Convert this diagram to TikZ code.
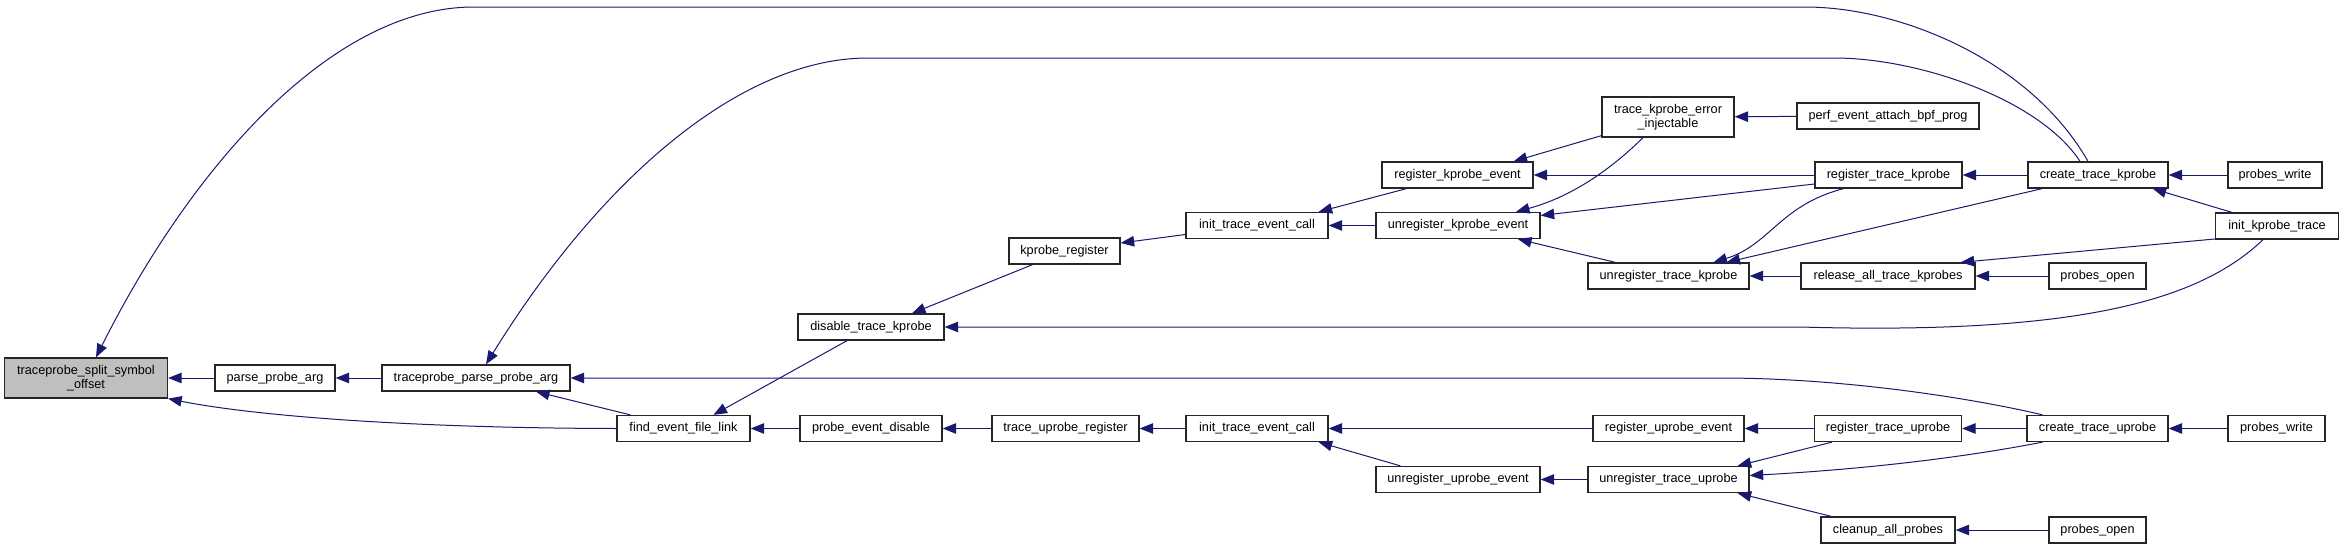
\documentclass[tikz,border=0pt]{standalone}
\usepackage{fontspec}
\setmainfont{Liberation Sans}
\usetikzlibrary{arrows.meta}
\definecolor{edgeblue}{RGB}{25,25,112}
\definecolor{rootgray}{RGB}{191,191,191}

\begin{document}
\begin{tikzpicture}[
    x=1pt, y=-1pt,
    font=\fontsize{12.7pt}{14.5pt}\selectfont,
    fn/.style={
        draw=black!85,
        line width=1.3pt,
        fill=white,
        minimum height=26pt,
        inner sep=2pt,
        align=center
    },
    root/.style={fn, fill=rootgray},
    arrow/.style={{Triangle[length=13.5pt,width=10.5pt]}-, line width=1pt, draw=edgeblue}
]
\path[use as bounding box, fill=white] (0,0) rectangle (2343,549);

% ============================================================
% LEFT PART
% ============================================================
\node[root, minimum width=163pt, minimum height=40pt] (split) at (86,378) {traceprobe\_split\_symbol\\\_offset};
\node[fn, minimum width=120pt] (ppa) at (275,378) {parse\_probe\_arg};
\node[fn, minimum width=188pt] (tppa) at (476,378) {traceprobe\_parse\_probe\_arg};
\node[fn, minimum width=133pt] (fefl) at (683.5,428.5) {find\_event\_file\_link};
\node[fn, minimum width=146pt] (dtk) at (871,327) {disable\_trace\_kprobe};
\node[fn, minimum width=142pt] (ped) at (871,428.5) {probe\_event\_disable};
\node[fn, minimum width=111pt] (kpr) at (1064.5,251) {kprobe\_register};
\node[fn, minimum width=147pt] (tur) at (1065.5,428.5) {trace\_uprobe\_register};
\node[fn, minimum width=142pt] (itk) at (1257,225.5) {init\_trace\_event\_call};
\node[fn, minimum width=142pt] (itu) at (1257,428.5) {init\_trace\_event\_call};

% ============================================================
% KPROBE PART
% ============================================================
\node[fn, minimum width=151pt] (rke) at (1457.5,175) {register\_kprobe\_event};
\node[fn, minimum width=164pt] (urke) at (1458,225.5) {unregister\_kprobe\_event};
\node[fn, minimum width=132pt, minimum height=40pt] (tkei) at (1668,117) {trace\_kprobe\_error\\\_injectable};
\node[fn, minimum width=161pt] (urtk) at (1668.5,276) {unregister\_trace\_kprobe};
\node[fn, minimum width=182pt] (pea) at (1888,116) {perf\_event\_attach\_bpf\_prog};
\node[fn, minimum width=147pt] (rtk) at (1888.5,175) {register\_trace\_kprobe};
\node[fn, minimum width=174pt] (ratk) at (1888,276) {release\_all\_trace\_kprobes};
\node[fn, minimum width=140pt] (ctk) at (2098,175) {create\_trace\_kprobe};
\node[fn, minimum width=97pt] (pok) at (2097.5,276) {probes\_open};
\node[fn, minimum width=94pt] (pwk) at (2275,175) {probes\_write};
\node[fn, minimum width=123pt] (ikt) at (2277,226) {init\_kprobe\_trace};

% ============================================================
% UPROBE PART
% ============================================================
\node[fn, minimum width=151pt] (rue) at (1668.5,428.5) {register\_uprobe\_event};
\node[fn, minimum width=147pt] (rtu) at (1888,428.5) {register\_trace\_uprobe};
\node[fn, minimum width=141pt] (ctu) at (2097.5,428.5) {create\_trace\_uprobe};
\node[fn, minimum width=97pt] (pwu) at (2276.5,428.5) {probes\_write};
\node[fn, minimum width=164pt] (urue) at (1458,479.5) {unregister\_uprobe\_event};
\node[fn, minimum width=161pt] (urtu) at (1668.5,479.5) {unregister\_trace\_uprobe};
\node[fn, minimum width=134pt] (cap) at (1888,530) {cleanup\_all\_probes};
\node[fn, minimum width=97pt] (pou) at (2097.5,530) {probes\_open};

% ============================================================
% CALLS
% ============================================================
\draw[arrow] (split) -- (ppa);
\draw[arrow] (ppa) -- (tppa);
\draw[arrow] (split.south east) .. controls (250,415) and (400,428) .. (fefl.west);
\draw[arrow] ([xshift=10pt]split.north) .. controls (190,170) and (330,7) .. (474,7)
    -- (1805,7) .. controls (1900,7) and (2030,60) .. ([xshift=-10pt]ctk.north);
\draw[arrow] ([xshift=10pt]tppa.north) .. controls (600,180) and (740,58) .. (868,58)
    -- (1834,58) .. controls (1920,58) and (2040,100) .. ([xshift=-18pt]ctk.north);
\draw[arrow] (tppa.east) -- (1720,378) .. controls (1850,378) and (1980,400) .. ([xshift=-55pt]ctu.north);
\draw[arrow] ([xshift=60pt]tppa.south) -- ([xshift=14pt]fefl.north west);
\draw[arrow] ([xshift=30pt]fefl.north) -- ([xshift=-24pt]dtk.south);
\draw[arrow] (fefl) -- (ped);
\draw[arrow] ([xshift=41pt]dtk.north) -- ([xshift=-32pt]kpr.south);
\draw[arrow] (dtk.east) -- (1800,327) .. controls (2080,335) and (2200,300) .. ([xshift=-14pt]ikt.south);
\draw[arrow] ([yshift=8pt]kpr.east) -- ([yshift=-9pt]itk.west);

% kprobe side
\draw[arrow] ([xshift=-10pt]itk.north east) -- ([xshift=25pt]rke.south west);
\draw[arrow] (itk) -- (urke);
\draw[arrow] ([xshift=-20pt]rke.north east) -- ([yshift=2pt]tkei.south west);
\draw[arrow] (rke) -- (rtk);
\draw[arrow] ([xshift=58pt]urke.north) .. controls (1560,200) and (1600,180) .. ([xshift=-25pt]tkei.south);
\draw[arrow] ([yshift=10pt]urke.east) -- ([yshift=-9pt]rtk.west);
\draw[arrow] ([xshift=60pt]urke.south) -- ([xshift=28pt]urtk.north west);
\draw[arrow] (tkei) -- (pea);
\draw[arrow] (rtk) -- (ctk);
\draw[arrow] ([xshift=45pt]urtk.north) .. controls (1770,245) and (1780,205) .. ([xshift=-45pt]rtk.south);
\draw[arrow] ([xshift=58pt]urtk.north) -- ([xshift=-56pt]ctk.south);
\draw[arrow] (urtk) -- (ratk);
\draw[arrow] (ratk) -- (pok);
\draw[arrow] ([xshift=-15pt]ratk.north east) -- ([yshift=-13pt]ikt.west);
\draw[arrow] (ctk) -- (pwk);
\draw[arrow] ([xshift=-16pt]ctk.south east) -- ([xshift=17pt]ikt.north west);

% uprobe side
\draw[arrow] (ped) -- (tur);
\draw[arrow] (tur) -- (itu);
\draw[arrow] (itu) -- (rue);
\draw[arrow] ([xshift=-10pt]itu.south east) -- ([xshift=25pt]urue.north west);
\draw[arrow] (rue) -- (rtu);
\draw[arrow] (urue) -- (urtu);
\draw[arrow] ([xshift=-12pt]urtu.north east) -- ([xshift=18pt]rtu.south west);
\draw[arrow] ([yshift=4pt]urtu.east) .. controls (1850,470) and (1950,460) .. ([xshift=-55pt]ctu.south);
\draw[arrow] (rtu) -- (ctu);
\draw[arrow] (ctu) -- (pwu);
\draw[arrow] ([xshift=-12pt]urtu.south east) -- ([xshift=11pt]cap.north west);
\draw[arrow] (cap) -- (pou);

\end{tikzpicture}
\end{document}
